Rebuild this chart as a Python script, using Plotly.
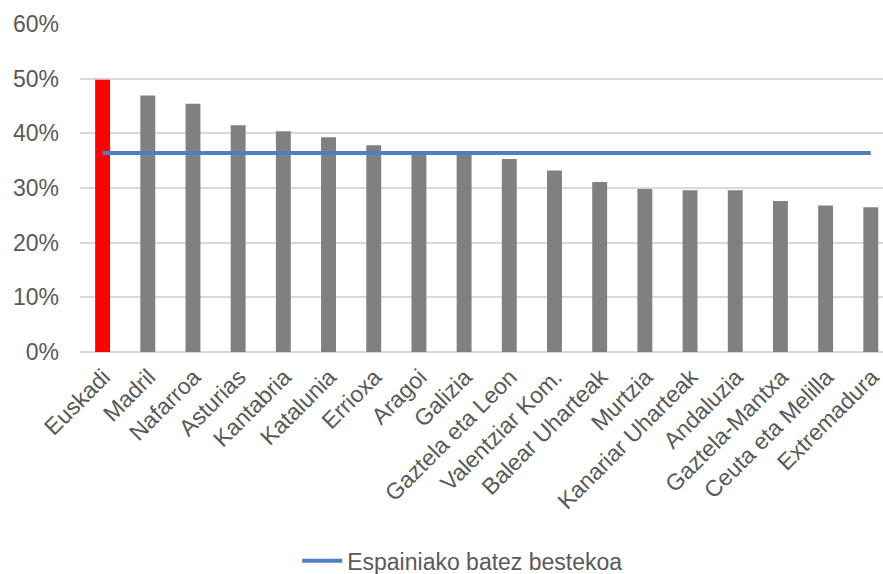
import plotly.graph_objects as go

regions = [
    "Euskadi", "Madril", "Nafarroa", "Asturias", "Kantabria", "Katalunia",
    "Errioxa", "Aragoi", "Galizia", "Gaztela eta Leon", "Valentziar Kom.",
    "Balear Uharteak", "Murtzia", "Kanariar Uharteak", "Andaluzia",
    "Gaztela-Mantxa", "Ceuta eta Melilla", "Extremadura",
]
shares = [
    0.498, 0.469, 0.454, 0.415, 0.404, 0.393, 0.378, 0.362, 0.361, 0.353,
    0.332, 0.311, 0.298, 0.296, 0.296, 0.276, 0.268, 0.265,
]
spain_average = 0.364
highlight = "Euskadi"

bar_colors = ["#ff0000" if r == highlight else "#808080" for r in regions]

font_family = "Liberation Sans, Arial, sans-serif"
text_color = "#595959"

fig = go.Figure()
fig.add_trace(go.Bar(
    x=regions, y=shares, marker=dict(color=bar_colors, line=dict(width=0)),
    width=0.33, showlegend=False, hoverinfo="x+y",
))
fig.add_trace(go.Scatter(
    x=regions, y=[spain_average] * len(regions), mode="lines",
    line=dict(color="#4f7fc0", width=4), name="Espainiako batez bestekoa",
))

fig.update_layout(
    width=883, height=574,
    margin=dict(l=80, r=0, t=24, b=222, autoexpand=False),
    paper_bgcolor="white", plot_bgcolor="white",
    font=dict(family=font_family, size=23, color=text_color),
    legend=dict(
        orientation="h", xref="container", x=0.524, xanchor="center",
        yref="container", y=0.023, yanchor="middle",
        itemwidth=40,
        font=dict(size=23, color=text_color),
    ),
    bargap=0.67,
)
fig.update_xaxes(
    range=[-0.5, 17.27], tickangle=-45, showgrid=False, showline=False,
    automargin=False,
    ticks="", ticklabelstandoff=6, ticklabelshift=1,
    tickfont=dict(size=23, color=text_color),
)
fig.update_yaxes(
    range=[0, 0.6], dtick=0.1, tickformat=".0%", showgrid=True,
    automargin=False,
    gridcolor="#d9d9d9", gridwidth=1.5, zeroline=True,
    zerolinecolor="#d9d9d9", zerolinewidth=1.5, showline=False,
    ticks="", ticklabelstandoff=20, tickfont=dict(size=23, color=text_color),
)

fig.write_html("out.html")
